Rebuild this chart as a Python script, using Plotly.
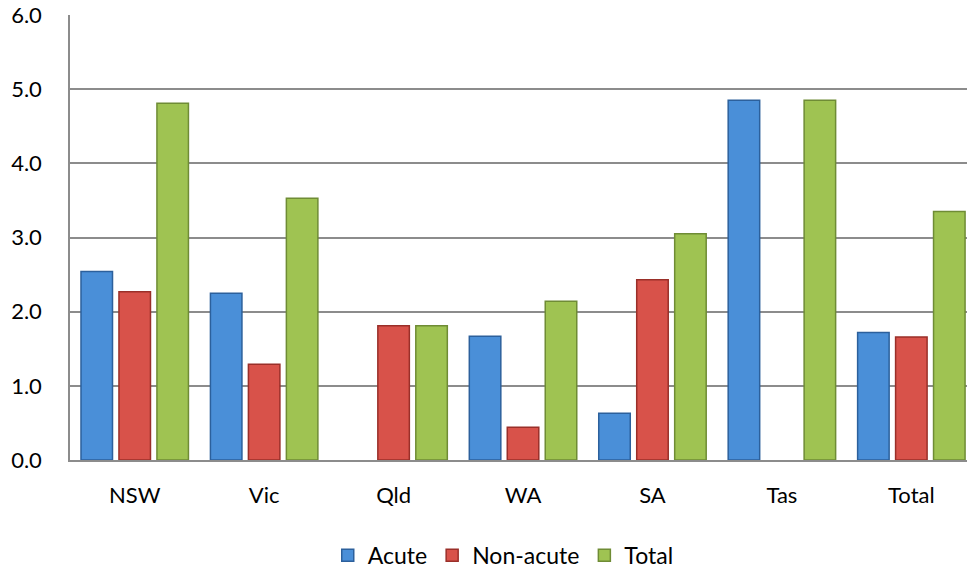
import plotly.graph_objects as go

categories = ["NSW", "Vic", "Qld", "WA", "SA", "Tas", "Total"]
acute = [2.54, 2.25, 0.0, 1.67, 0.63, 4.85, 1.72]
non_acute = [2.27, 1.29, 1.81, 0.44, 2.43, 0.0, 1.66]
total = [4.81, 3.53, 1.81, 2.14, 3.05, 4.85, 3.35]
y_ticks = [0, 1, 2, 3, 4, 5, 6]

series = [
    ("Acute", acute, "#4a8fd8", "#2c609c"),
    ("Non-acute", non_acute, "#d8524a", "#9a2f29"),
    ("Total", total, "#9fc352", "#6f8c35"),
]

fig = go.Figure()
for name, vals, fill, edge in series:
    # no outline on zero-height bars so empty slots stay blank
    widths = [1.5 if v > 0 else 0 for v in vals]
    fig.add_trace(go.Bar(
        x=categories, y=vals, name=name,
        marker=dict(color=fill, line=dict(color=edge, width=widths)),
    ))

font_family = "Lato, 'Open Sans', sans-serif"
fig.update_layout(
    width=967, height=570,
    margin=dict(l=70, r=0, t=15, b=110, autoexpand=False),
    paper_bgcolor="white", plot_bgcolor="white",
    barmode="group", bargap=0.12, bargroupgap=0.17,
    font=dict(family=font_family, size=22, color="#000000"),
    showlegend=True,
    legend=dict(
        orientation="h", x=0.483, xanchor="center",
        yref="container", y=0.026, yanchor="middle",
        font=dict(size=23), traceorder="normal",
    ),
    xaxis=dict(
        range=[-0.5, 6.43], showgrid=False, showline=True,
        linecolor="#8c8c8c", linewidth=1.5, ticks="",
        ticklabelstandoff=15, tickfont=dict(size=22),
    ),
    yaxis=dict(
        range=[0, 6], tickvals=y_ticks, tickformat=".1f",
        showgrid=True, gridcolor="#8c8c8c", gridwidth=1.5,
        showline=True, linecolor="#8c8c8c", linewidth=1.5,
        zeroline=False, ticks="", ticklabelstandoff=22,
        tickfont=dict(size=22),
    ),
)

fig.write_html("out.html")
